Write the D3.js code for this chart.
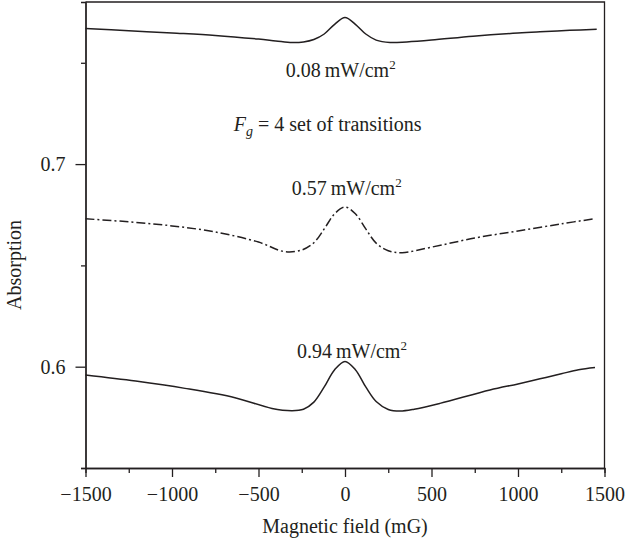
<!DOCTYPE html>
<html>
<head>
<meta charset="utf-8">
<script src="https://cdn.jsdelivr.net/npm/d3@7"></script>
<style>
  body { margin: 0; background: #fff; }
  svg text { font-family: "Liberation Serif", "DejaVu Serif", serif; fill: #231f20; }
  .line { fill: none; stroke: #231f20; stroke-width: 1.5; }
  .axis path, .axis line { stroke: #231f20; stroke-width: 1.3; }
</style>
</head>
<body>
<div id="graph-container"></div>
<script>
// 0.08 mW/cm2 trace
const fieldTop = [-1500, -1250, -1000, -750, -500, -400, -306, -240, -180, -120, -60, 0, 60, 120, 180, 260, 357, 500, 740, 1000, 1127, 1300, 1455];
const absTop = [0.7669, 0.7658, 0.7647, 0.7635, 0.7617, 0.7608, 0.7600, 0.7603, 0.7615, 0.7642, 0.7690, 0.7724, 0.7690, 0.7642, 0.7612, 0.7600, 0.7603, 0.7612, 0.7631, 0.7647, 0.7653, 0.7660, 0.7666];

// 0.57 mW/cm2 trace (dash-dot)
const fieldMid = [-1500, -1250, -1000, -750, -500, -350, -250, -180, -120, -60, 0, 60, 120, 180, 250, 330, 500, 750, 1000, 1250, 1440];
const absMid = [0.6730, 0.6715, 0.6695, 0.6665, 0.6615, 0.6568, 0.6576, 0.6612, 0.6680, 0.6755, 0.6788, 0.6755, 0.6680, 0.6610, 0.6572, 0.6563, 0.6590, 0.6635, 0.6670, 0.6705, 0.6730];

// 0.94 mW/cm2 trace
const fieldLow = [-1500, -1210, -925, -636, -422, -306, -240, -180, -120, -60, 0, 60, 120, 180, 250, 318, 400, 549, 838, 1000, 1127, 1250, 1350, 1445];
const absLow = [0.5959, 0.5929, 0.5893, 0.5847, 0.5794, 0.5783, 0.5790, 0.5825, 0.5900, 0.5985, 0.6026, 0.5985, 0.5900, 0.5828, 0.5789, 0.5781, 0.5790, 0.5819, 0.5885, 0.5915, 0.5940, 0.5965, 0.5985, 0.5996];

const xTicks = [-1500, -1000, -500, 0, 500, 1000, 1500];
const xMinorTicks = [-1250, -750, -250, 250, 750, 1250];
const yTicks = [0.6, 0.7];
const yMinorTicks = [0.55, 0.65, 0.75];

function zip(xs, ys) {
  return xs.map((x, i) => ({ field: x, abs: ys[i] }));
}

function drawGraph() {
  const width = 625;
  const height = 548;
  const margin = { top: 2, right: 20.5, bottom: 80, left: 85.5 };
  const graphWidth = width - margin.left - margin.right;
  const graphHeight = height - margin.top - margin.bottom;

  const svg = d3.select("#graph-container")
    .append("svg")
    .attr("width", width)
    .attr("height", height);

  const graph = svg.append("g")
    .attr("transform", `translate(${margin.left},${margin.top})`);

  const xScale = d3.scaleLinear()
    .domain([-1500, 1500])
    .range([0, graphWidth]);

  const yScale = d3.scaleLinear()
    .domain([0.55, 0.78])
    .range([graphHeight, 0]);

  // frame (top and right)
  graph.append("path")
    .attr("d", `M0,0H${graphWidth}V${graphHeight}`)
    .attr("fill", "none")
    .attr("stroke", "#231f20")
    .attr("stroke-width", 1.3);

  // minor ticks first so major axes sit on top
  graph.append("g")
    .attr("class", "axis")
    .attr("transform", `translate(0, ${graphHeight})`)
    .call(d3.axisBottom(xScale).tickValues(xMinorTicks).tickSize(5).tickFormat(""));

  graph.append("g")
    .attr("class", "axis")
    .call(d3.axisLeft(yScale).tickValues(yMinorTicks).tickSize(4.5).tickFormat(""));

  const xAxis = graph.append("g")
    .attr("class", "axis")
    .attr("transform", `translate(0, ${graphHeight})`)
    .call(d3.axisBottom(xScale).tickValues(xTicks).tickSize(9).tickSizeOuter(0)
      .tickFormat(d => d < 0 ? "\u2212" + Math.abs(d) : d));
  xAxis.selectAll("text")
    .attr("font-size", 20)
    .attr("y", 19);

  const yAxis = graph.append("g")
    .attr("class", "axis")
    .call(d3.axisLeft(yScale).tickValues(yTicks).tickSize(10).tickSizeOuter(0)
      .tickFormat(d3.format(".1f")));
  yAxis.selectAll("text")
    .attr("font-size", 20)
    .attr("x", -20);
  graph.selectAll(".axis .domain").attr("stroke-width", 1.3);

  // traces
  const line = d3.line()
    .x(d => xScale(d.field))
    .y(d => yScale(d.abs))
    .curve(d3.curveCatmullRom.alpha(0.5));

  graph.append("path")
    .datum(zip(fieldTop, absTop))
    .attr("class", "line")
    .attr("d", line);

  graph.append("path")
    .datum(zip(fieldMid, absMid))
    .attr("class", "line")
    .attr("stroke-width", 1.2)
    .attr("stroke-dasharray", "9,3,2,3")
    .attr("d", line);

  graph.append("path")
    .datum(zip(fieldLow, absLow))
    .attr("class", "line")
    .attr("d", line);

  // annotations
  const labels = [
    { text: "0.08", x: -25, y: 0.7429 },
    { text: "0.57", x: 10, y: 0.6845 },
    { text: "0.94", x: 40, y: 0.6045 }
  ];
  labels.forEach(l => {
    const t = graph.append("text")
      .attr("x", xScale(l.x))
      .attr("y", yScale(l.y))
      .attr("text-anchor", "middle")
      .attr("font-size", 20);
    t.append("tspan").text(l.text + "\u2009mW/cm");
    t.append("tspan").attr("font-size", 13).attr("dy", -8).text("2");
  });

  const fg = graph.append("text")
    .attr("x", xScale(-100))
    .attr("y", yScale(0.7165))
    .attr("text-anchor", "middle")
    .attr("font-size", 20);
  fg.append("tspan").attr("font-style", "italic").text("F");
  fg.append("tspan").attr("font-style", "italic").attr("font-size", 14).attr("dy", 5).text("g");
  fg.append("tspan").attr("dy", -5).text(" = 4 set of transitions");

  // axis titles
  svg.append("text")
    .attr("x", margin.left + graphWidth / 2)
    .attr("y", 533)
    .attr("text-anchor", "middle")
    .attr("font-size", 20)
    .text("Magnetic field (mG)");

  svg.append("text")
    .attr("transform", "translate(21, 265) rotate(-90)")
    .attr("text-anchor", "middle")
    .attr("font-size", 20)
    .text("Absorption");
}

drawGraph();
</script>
</body>
</html>
